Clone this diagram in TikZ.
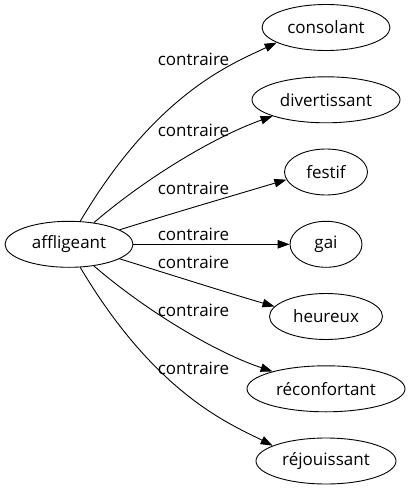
\documentclass[tikz,border=0pt]{standalone}
\usepackage{fontspec}
\setmainfont{Open Sans}[Ligatures=NoCommon]
\usetikzlibrary{shapes.geometric,arrows.meta}
\begin{document}
\begin{tikzpicture}[x=1bp,y=-1bp,
  word/.style={ellipse,draw,line width=0.9bp,minimum height=46bp,inner sep=0pt,font=\fontsize{17bp}{20bp}\selectfont},
  rel/.style={draw,line width=0.9bp,-{Triangle[length=12bp,width=8.5bp]}},
  lab/.style={font=\fontsize{17bp}{20bp}\selectfont,inner sep=0pt}]
\useasboundingbox (0,0) rectangle (410,491);
\node[word,minimum width=128bp] (aff) at (69,244.3) {affligeant};
\node[word,minimum width=128bp] (n1) at (326,27.5) {consolant};
\node[word,minimum width=148bp] (n2) at (326,99.8) {divertissant};
\node[word,minimum width=83bp] (n3) at (326,172) {festif};
\node[word,minimum width=72bp] (n4) at (326,244.3) {gai};
\node[word,minimum width=113bp] (n5) at (326,316.5) {heureux};
\node[word,minimum width=158bp] (n6) at (326,388.8) {réconfortant};
\node[word,minimum width=140bp] (n7) at (326,461) {réjouissant};
\draw[rel] (aff.64) .. controls (156.5,92.7) and (232,63.8) .. (n1.197);
\draw[rel] (aff.41.6) .. controls (147,177) and (216,136) .. (n2.197);
\draw[rel] (aff.16.8) .. controls (170,214) and (235,195) .. (n3.191.4);
\draw[rel] (aff) -- (n4);
\draw[rel] (aff.-16.8) .. controls (170,274.5) and (225,292) .. (n5.169);
\draw[rel] (aff.-41.6) .. controls (147,311.6) and (216,352.6) .. (n6.162.7);
\draw[rel] (aff.-64) .. controls (156.5,395.9) and (232,424.8) .. (n7.164.9);
\node[lab] (l1) at (193.5,59) {contraire};
\node[lab] (l2) at (193.5,130) {contraire};
\node[lab] (l3) at (193.5,188) {contraire};
\node[lab] (l4) at (193.5,234) {contraire};
\node[lab] (l5) at (193.5,262) {contraire};
\node[lab] (l6) at (193.5,310) {contraire};
\node[lab] (l7) at (193.5,368) {contraire};
\end{tikzpicture}
\end{document}
